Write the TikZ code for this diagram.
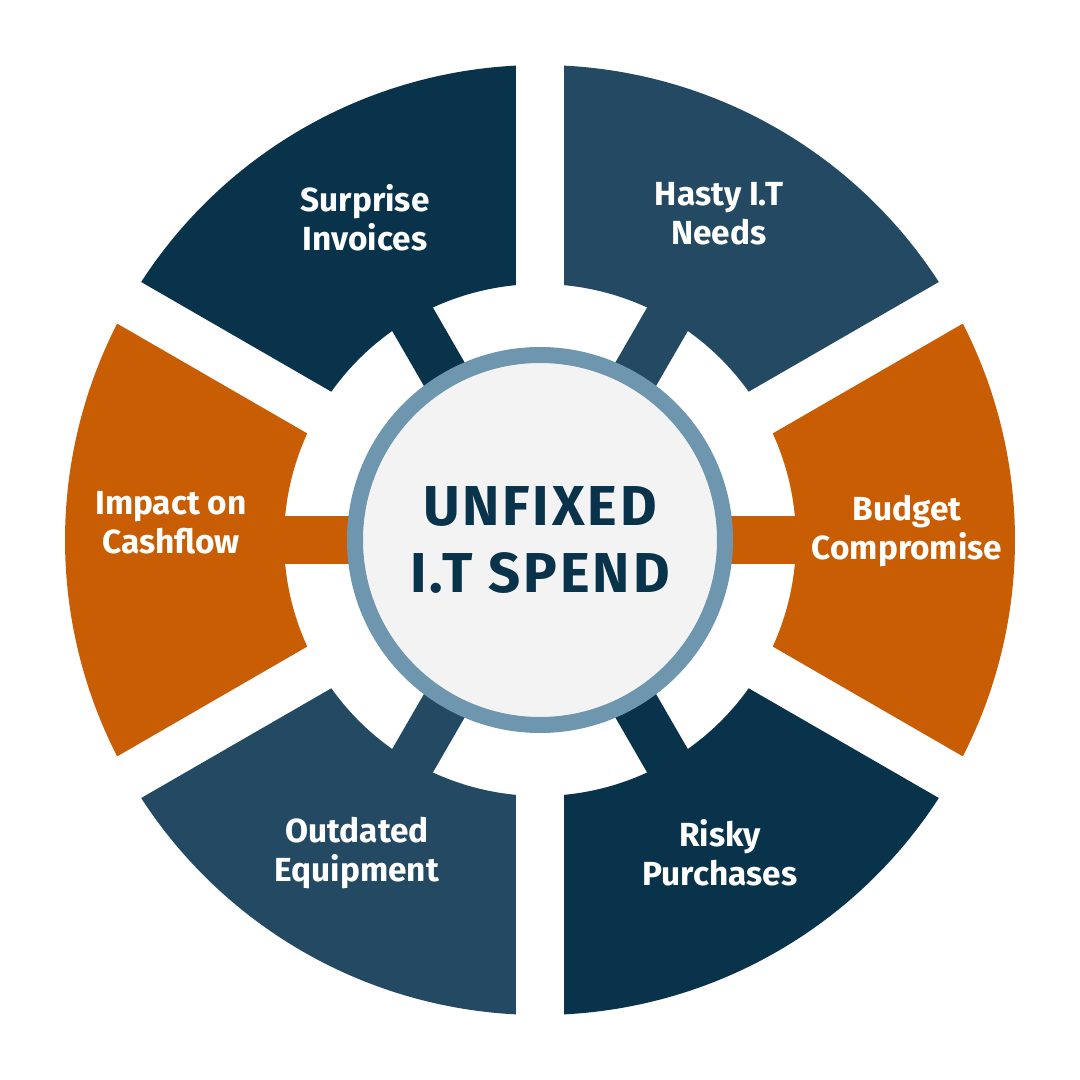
\documentclass[tikz,border=0pt]{standalone}
\usepackage{fontspec}
\setmainfont{Fira Sans}
\definecolor{navy}{HTML}{08334B}
\definecolor{slate}{HTML}{244A63}
\definecolor{rust}{HTML}{C85D03}
\definecolor{ring}{HTML}{6E96AE}
\definecolor{hubfill}{HTML}{F3F3F3}
\tikzset{
  seglabel/.style={text=white,font=\bfseries\fontsize{9.5}{11.1}\selectfont,align=center},
  hub/.style={circle,draw=ring,line width=0.16cm,fill=hubfill,minimum size=3.7cm,inner sep=0pt,
    text=navy,font=\bfseries\fontsize{16}{18.8}\selectfont\addfontfeatures{LetterSpace=5},align=center}
}
\begin{document}
\begin{tikzpicture}
   \useasboundingbox (-5.4,-5.4) rectangle (5.4,5.4);
   \fill[navy] (92.9:4.75) arc[start angle=92.9,end angle=147.1,radius=4.75] -- (144.6:2.56) arc[start angle=144.6,end angle=95.4,radius=2.56] -- cycle;
   \fill[slate] (32.9:4.75) arc[start angle=32.9,end angle=87.1,radius=4.75] -- (84.6:2.56) arc[start angle=84.6,end angle=35.4,radius=2.56] -- cycle;
   \fill[rust] (-27.1:4.75) arc[start angle=-27.1,end angle=27.1,radius=4.75] -- (24.6:2.56) arc[start angle=24.6,end angle=-24.6,radius=2.56] -- cycle;
   \fill[rust] (152.9:4.75) arc[start angle=152.9,end angle=207.1,radius=4.75] -- (204.6:2.56) arc[start angle=204.6,end angle=155.4,radius=2.56] -- cycle;
   \fill[slate] (212.9:4.75) arc[start angle=212.9,end angle=267.1,radius=4.75] -- (264.6:2.56) arc[start angle=264.6,end angle=215.4,radius=2.56] -- cycle;
   \fill[navy] (272.9:4.75) arc[start angle=272.9,end angle=327.1,radius=4.75] -- (324.6:2.56) arc[start angle=324.6,end angle=275.4,radius=2.56] -- cycle;
   \fill[navy,rotate=120] (1.7,-0.235) rectangle (2.7,0.235);
   \fill[slate,rotate=60] (1.7,-0.235) rectangle (2.7,0.235);
   \fill[rust,rotate=0] (1.7,-0.235) rectangle (2.7,0.235);
   \fill[rust,rotate=180] (1.7,-0.235) rectangle (2.7,0.235);
   \fill[slate,rotate=240] (1.7,-0.235) rectangle (2.7,0.235);
   \fill[navy,rotate=300] (1.7,-0.235) rectangle (2.7,0.235);
   \node[hub] (hub) at (0,0) {UNFIXED\\I.T SPEND};
   \node[seglabel] (surprise) at (-1.75,3.22) {Surprise\\Invoices};
   \node[seglabel] (hasty) at (1.79,3.26) {Hasty I.T\\Needs};
   \node[seglabel] (budget) at (3.67,0.09) {Budget\\Compromise};
   \node[seglabel] (impact) at (-3.69,0.17) {Impact on\\Cashflow};
   \node[seglabel] (outdated) at (-1.83,-3.13) {Outdated\\Equipment};
   \node[seglabel] (risky) at (1.80,-3.13) {Risky\\Purchases};
  \end{tikzpicture}
\end{document}
